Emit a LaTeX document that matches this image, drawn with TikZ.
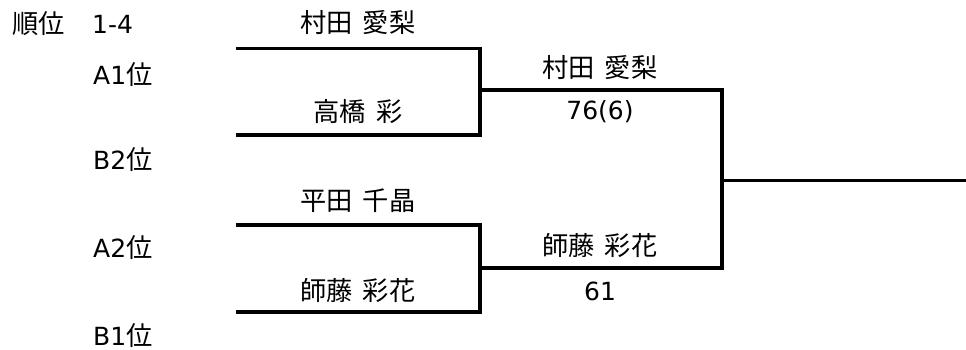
\documentclass[tikz,border=0pt]{standalone}
\usepackage{fontspec}
\setmainfont{DejaVu Sans}
\newfontfamily\cjk[WordSpace=1.7,Scale=1.05]{Noto Sans CJK JP}
\begin{document}
\begin{tikzpicture}[x=1pt,y=-1pt,
  lbl/.style={anchor=base west,inner sep=0pt,font=\fontsize{25}{28}\selectfont},
  nm/.style={anchor=base,inner sep=0pt,font=\fontsize{25}{28}\selectfont},
  br/.style={line width=3.2pt,line cap=rect}]
\useasboundingbox (0,0) rectangle (966,350);
% left labels
\node[lbl] (rank) at (12,34) {\cjk 順位};
\node[lbl] (range) at (92,34) {1-4};
\node[lbl] (a1) at (93,85) {A1{\cjk 位}};
\node[lbl] (b2) at (93,169) {B2{\cjk 位}};
\node[lbl] (a2) at (93,257) {A2{\cjk 位}};
\node[lbl] (b1) at (93,345) {B1{\cjk 位}};
% bracket coordinates
\coordinate (t1s) at (238,48.5);
\coordinate (t1e) at (480,48.5);
\coordinate (b1s) at (238,135);
\coordinate (b1e) at (480,135);
\coordinate (m1s) at (480,90);
\coordinate (m1e) at (722,90);
\coordinate (t2s) at (238,225);
\coordinate (t2e) at (480,225);
\coordinate (b2s) at (238,312);
\coordinate (b2e) at (480,312);
\coordinate (m2s) at (480,268);
\coordinate (m2e) at (722,268);
\coordinate (fs) at (722,180.5);
\coordinate (fe) at (966,180.5);
\draw[br] (t1s) -- (t1e) -- (b1e) -- (b1s);
\draw[br] (m1s) -- (m1e) -- (m2e) -- (m2s);
\draw[br] (t2s) -- (t2e) -- (b2e) -- (b2s);
\draw[br,line cap=butt] (fs) -- (fe);
% first round names
\node[nm] (p1) at (358,33) {\cjk 村田 愛梨};
\node[nm] (p2) at (358,122) {\cjk 高橋 彩};
\node[nm] (p3) at (358,210) {\cjk 平田 千晶};
\node[nm] (p4) at (358,300) {\cjk 師藤 彩花};
% second round
\node[nm] (w1) at (600,78) {\cjk 村田 愛梨};
\node[nm] (s1) at (600,120) {76(6)};
\node[nm] (w2) at (600,255) {\cjk 師藤 彩花};
\node[nm] (s2) at (600,300) {61};
\end{tikzpicture}
\end{document}
